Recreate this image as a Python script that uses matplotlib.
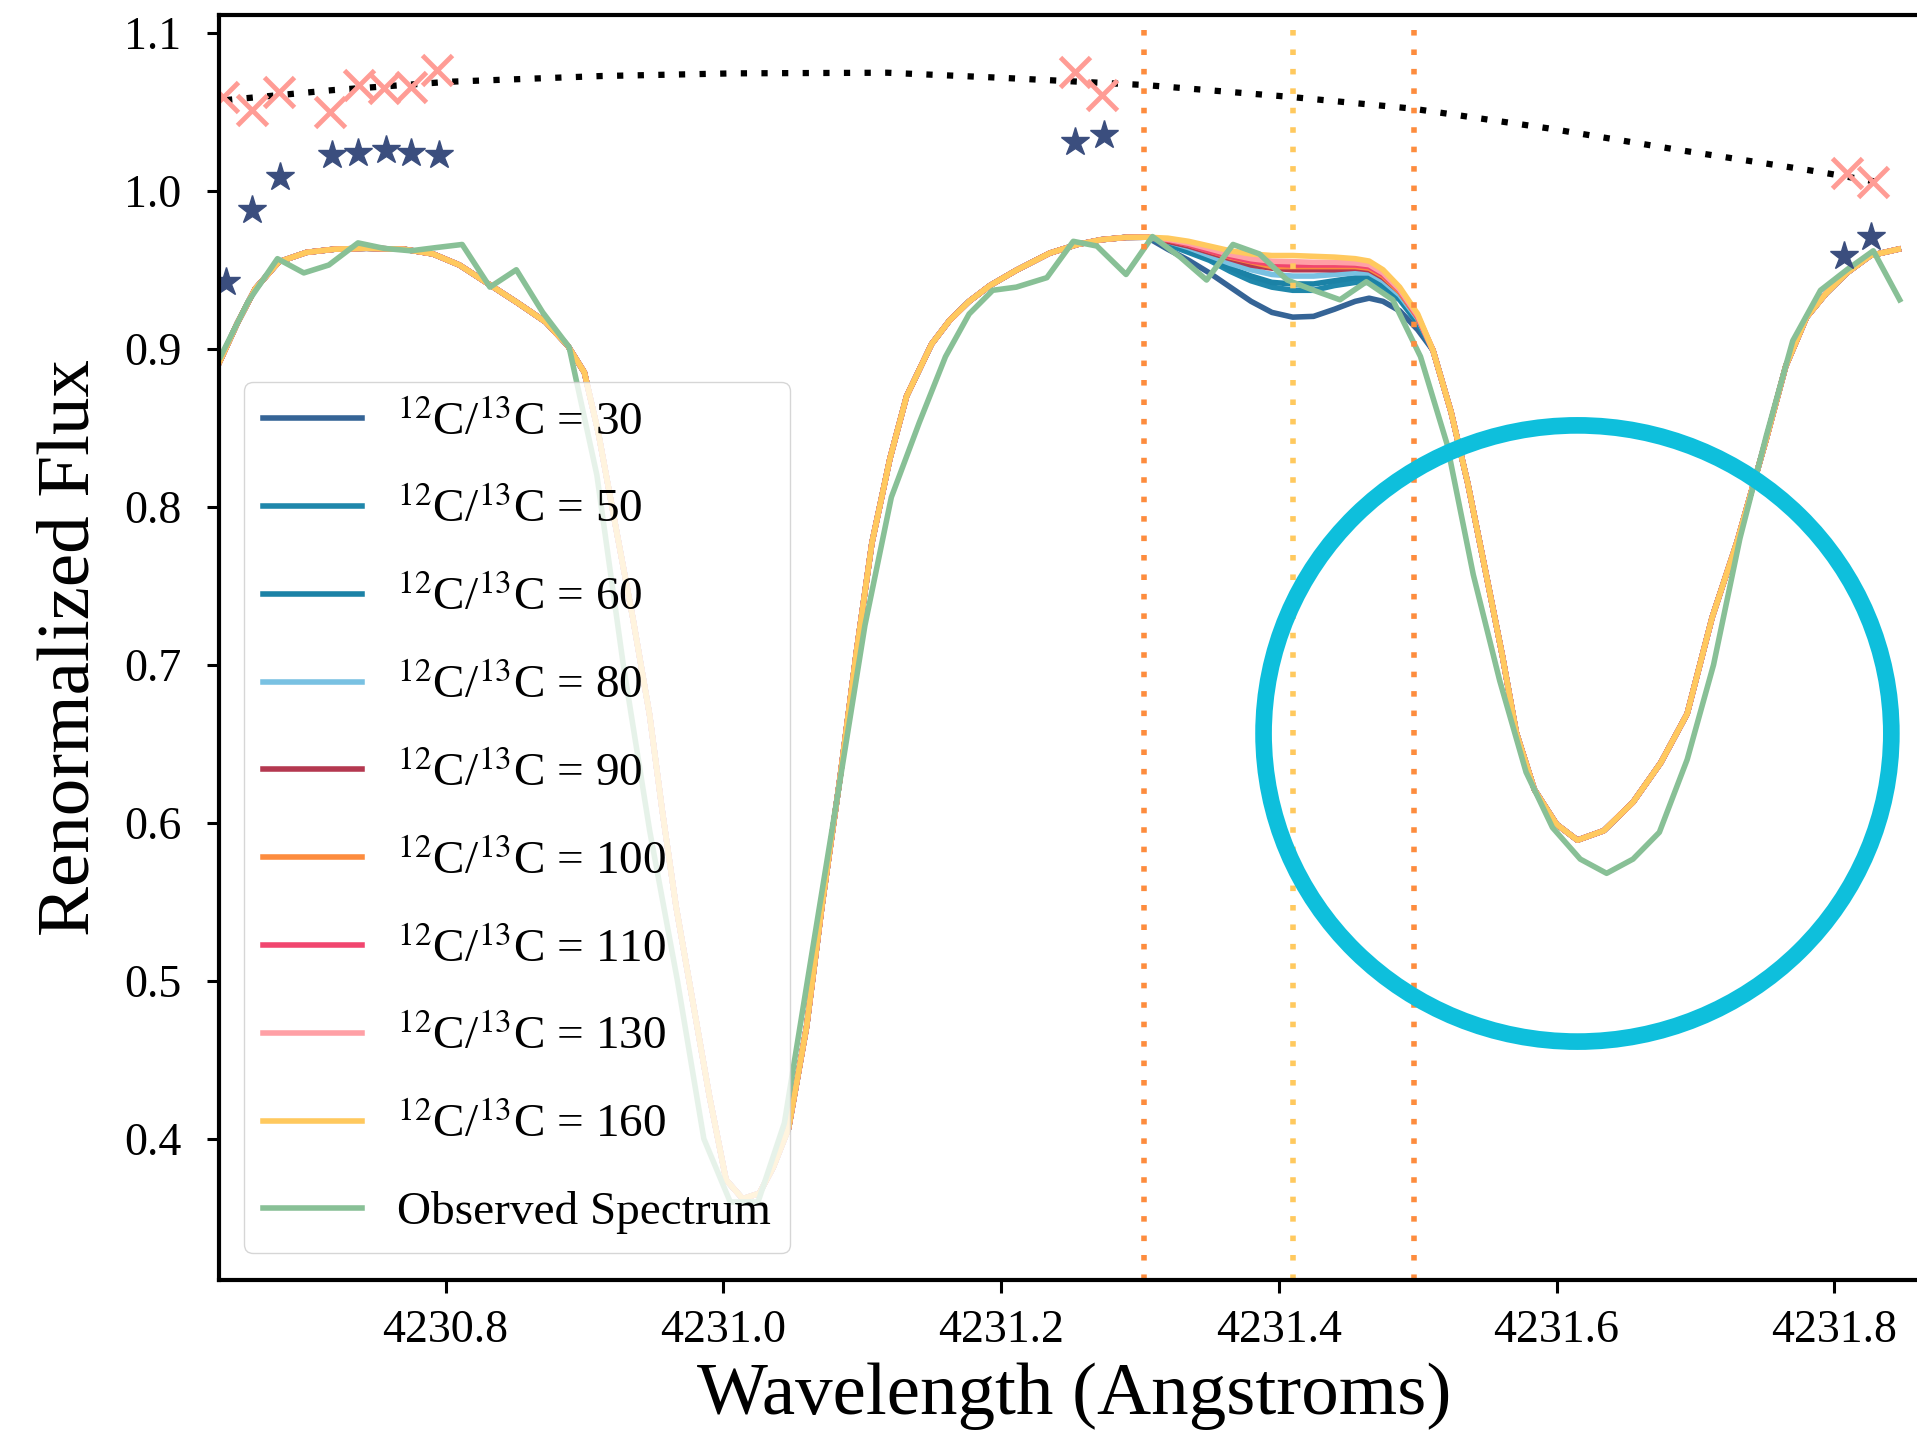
import matplotlib.pyplot as plt
from matplotlib.patches import Ellipse

plt.rcParams['font.family'] = ['Liberation Serif', 'DejaVu Serif']
plt.rcParams['mathtext.fontset'] = 'stix'

# model wavelength grid (Angstroms)
model_wave_left = [4230.637, 4230.650, 4230.663, 4230.680, 4230.700, 4230.720, 4230.743, 4230.770, 4230.791, 4230.810,
                   4230.831, 4230.852, 4230.872, 4230.888, 4230.900, 4230.910, 4230.922, 4230.935, 4230.947, 4230.956,
                   4230.966, 4230.978, 4230.990, 4231.002, 4231.014, 4231.026, 4231.036, 4231.047, 4231.060, 4231.071,
                   4231.084, 4231.096, 4231.107, 4231.120, 4231.132, 4231.150, 4231.163, 4231.177, 4231.192, 4231.211,
                   4231.235, 4231.255, 4231.272, 4231.290, 4231.305]
model_wave_window = [4231.320, 4231.335, 4231.350, 4231.365, 4231.380, 4231.395, 4231.410,
                     4231.425, 4231.440, 4231.455, 4231.465, 4231.475, 4231.487, 4231.500]
model_wave_right = [4231.511, 4231.524, 4231.536, 4231.550, 4231.561, 4231.571, 4231.584, 4231.600, 4231.615, 4231.634,
                    4231.655, 4231.675, 4231.694, 4231.712, 4231.730, 4231.751, 4231.765, 4231.780, 4231.794, 4231.809,
                    4231.826, 4231.846]

# flux shared by all models outside the 13C window
model_flux_left = [0.891, 0.916, 0.938, 0.955, 0.961, 0.963, 0.9636, 0.963, 0.960, 0.953,
                   0.941, 0.929, 0.917, 0.902, 0.885, 0.847, 0.790, 0.729, 0.668, 0.608,
                   0.547, 0.487, 0.427, 0.374, 0.362, 0.3655, 0.382, 0.4065, 0.471, 0.547,
                   0.628, 0.709, 0.777, 0.8305, 0.870, 0.903, 0.918, 0.930, 0.940, 0.9497,
                   0.9605, 0.966, 0.969, 0.9705, 0.9706]
model_flux_right = [0.899, 0.860, 0.815, 0.754, 0.7055, 0.657, 0.621, 0.599, 0.589, 0.595,
                    0.613, 0.638, 0.669, 0.730, 0.778, 0.843, 0.889, 0.920, 0.935, 0.948,
                    0.959, 0.963]

# flux in the 13C window for each ratio
ratios = [30, 50, 60, 80, 90, 100, 110, 130, 160]
window_30 = [0.963, 0.956, 0.948, 0.939, 0.930, 0.923, 0.920, 0.9205, 0.925, 0.930, 0.932, 0.930, 0.924, 0.912]
window_50 = [0.966, 0.961, 0.956, 0.949, 0.943, 0.939, 0.937, 0.937, 0.940, 0.942, 0.942, 0.939, 0.931, 0.916]
window_60 = [0.967, 0.962, 0.957, 0.951, 0.946, 0.942, 0.941, 0.941, 0.943, 0.945, 0.945, 0.941, 0.932, 0.917]
window_80 = [0.968, 0.964, 0.959, 0.954, 0.950, 0.947, 0.946, 0.946, 0.947, 0.948, 0.948, 0.943, 0.934, 0.919]
window_90 = [0.968, 0.965, 0.961, 0.957, 0.953, 0.951, 0.950, 0.950, 0.950, 0.951, 0.950, 0.945, 0.936, 0.920]
window_100 = [0.969, 0.966, 0.962, 0.958, 0.955, 0.952, 0.952, 0.952, 0.952, 0.952, 0.951, 0.946, 0.936, 0.920]
window_110 = [0.969, 0.966, 0.962, 0.9585, 0.9555, 0.9536, 0.953, 0.953, 0.953, 0.953, 0.952, 0.947, 0.937, 0.9205]
window_130 = [0.9693, 0.9668, 0.9633, 0.9597, 0.957, 0.9554, 0.9551, 0.9547, 0.9547, 0.9543, 0.9532, 0.948, 0.9375, 0.921]
window_160 = [0.970, 0.968, 0.965, 0.962, 0.960, 0.959, 0.959, 0.9585, 0.958, 0.957, 0.9555, 0.950, 0.939, 0.922]
windows = [window_30, window_50, window_60, window_80, window_90, window_100, window_110, window_130, window_160]
model_colors = ["#356496", "#1f87ab", "#1b82a6", "#79c1e2", "#b43850", "#fd8c3e", "#f1466f", "#ffa0a6", "#ffc95e"]

# observed spectrum
obs_wave = [4230.638, 4230.658, 4230.679, 4230.698, 4230.716, 4230.737, 4230.756, 4230.775, 4230.793, 4230.812,
            4230.832, 4230.851, 4230.870, 4230.889, 4230.909, 4230.928, 4230.947, 4230.967, 4230.986, 4231.005,
            4231.025, 4231.044, 4231.063, 4231.083, 4231.102, 4231.121, 4231.141, 4231.160, 4231.177, 4231.194,
            4231.211, 4231.233, 4231.252, 4231.269, 4231.290, 4231.309, 4231.329, 4231.348, 4231.367, 4231.386,
            4231.406, 4231.425, 4231.444, 4231.463, 4231.482, 4231.502, 4231.521, 4231.540, 4231.559, 4231.578,
            4231.597, 4231.617, 4231.636, 4231.655, 4231.674, 4231.694, 4231.713, 4231.732, 4231.751, 4231.770,
            4231.790, 4231.809, 4231.828, 4231.847]
obs_flux = [0.895, 0.930, 0.957, 0.948, 0.953, 0.967, 0.9635, 0.962, 0.964, 0.966,
            0.939, 0.950, 0.923, 0.901, 0.82, 0.70, 0.595, 0.50, 0.40, 0.36,
            0.36, 0.41, 0.513, 0.621, 0.725, 0.806, 0.853, 0.895, 0.922, 0.937,
            0.939, 0.945, 0.968, 0.965, 0.947, 0.971, 0.958, 0.9435, 0.966, 0.960,
            0.9435, 0.937, 0.931, 0.9424, 0.931, 0.895, 0.84, 0.757, 0.69, 0.632,
            0.597, 0.577, 0.568, 0.577, 0.594, 0.64, 0.70, 0.78, 0.845, 0.905,
            0.937, 0.95, 0.962, 0.931]

# continuum fit
cont_wave = [4230.642, 4230.719, 4230.803, 4230.912, 4231.008, 4231.118, 4231.200, 4231.304, 4231.407,
             4231.496, 4231.594, 4231.688, 4231.781, 4231.837]
cont_flux = [1.0574, 1.0637, 1.069, 1.0726, 1.0743, 1.0747, 1.0715, 1.0669, 1.0595,
             1.052, 1.0395, 1.0258, 1.0131, 1.0047]

# continuum points (crosses) and renormalized points (stars)
cross_wave = [4230.640, 4230.661, 4230.680, 4230.717, 4230.738, 4230.756, 4230.775, 4230.794,
              4231.253, 4231.273, 4231.809, 4231.828]
cross_flux = [1.0595, 1.051, 1.0627, 1.050, 1.0669, 1.0648, 1.0658, 1.0764,
              1.0753, 1.0606, 1.011, 1.0057]
star_wave = [4230.642, 4230.661, 4230.681, 4230.718, 4230.737, 4230.757, 4230.775, 4230.795,
             4231.253, 4231.274, 4231.807, 4231.826]
star_flux = [0.9424, 0.9878, 1.0089, 1.0226, 1.0237, 1.0258, 1.0237, 1.0226,
             1.031, 1.0352, 0.959, 0.971]

line_marks = [4231.303, 4231.410, 4231.497]
line_colors = ["#fd8c3e", "#ffc95e", "#fd8c3e"]


def main():
    fig = plt.figure(figsize=(19.17, 14.47), dpi=100)
    ax = fig.add_axes([0.1143, 0.1154, 0.8926, 0.8742])

    wave = model_wave_left + model_wave_window + model_wave_right
    for r, win, c in zip(ratios, windows, model_colors):
        flux = model_flux_left + win + model_flux_right
        ax.plot(wave, flux, color=c, lw=4, label=r"$^{12}$C/$^{13}$C = " + str(r))

    ax.plot(obs_wave, obs_flux, color="#88c096", lw=4, label="Observed Spectrum")

    ax.plot(cont_wave, cont_flux, color="black", lw=4.5, linestyle=(0, (1, 2.3)))
    ax.plot(cross_wave, cross_flux, "x", color="#ff9c95", ms=22, mew=3.5)
    ax.plot(star_wave, star_flux, "*", color="#3b4e7e", ms=21)

    for xv, c in zip(line_marks, line_colors):
        ax.axvline(xv, color=c, lw=4, linestyle=(0, (1, 2.5)))

    ax.add_patch(Ellipse((4231.615, 0.6565), 0.452, 0.390, fill=False,
                         edgecolor="#0ebfdc", lw=12, zorder=5))

    ax.set_xlim(4230.637, 4231.869)
    ax.set_ylim(0.3106, 1.1112)
    ax.set_xticks([4230.8, 4231.0, 4231.2, 4231.4, 4231.6, 4231.8])
    ax.set_xticklabels(["4230.8", "4231.0", "4231.2", "4231.4", "4231.6", "4231.8"])
    ax.set_yticks([0.4, 0.5, 0.6, 0.7, 0.8, 0.9, 1.0, 1.1])
    ax.tick_params(axis="both", direction="out", length=9, width=2.2, labelsize=33)
    ax.tick_params(axis="x", pad=12)
    ax.tick_params(axis="y", pad=18)
    for s in ax.spines.values():
        s.set_linewidth(3)

    ax.set_xlabel("Wavelength (Angstroms)", fontsize=54, labelpad=8)
    ax.set_ylabel("Renormalized Flux", fontsize=54, labelpad=14)

    ax.legend(loc="upper left", bbox_to_anchor=(0.0145, 0.710), borderaxespad=0,
              fontsize=34, handlelength=2.1, labelspacing=0.93, handletextpad=0.75)

    fig.savefig("out.png", dpi=100, facecolor="white")


if __name__ == "__main__":
    main()
